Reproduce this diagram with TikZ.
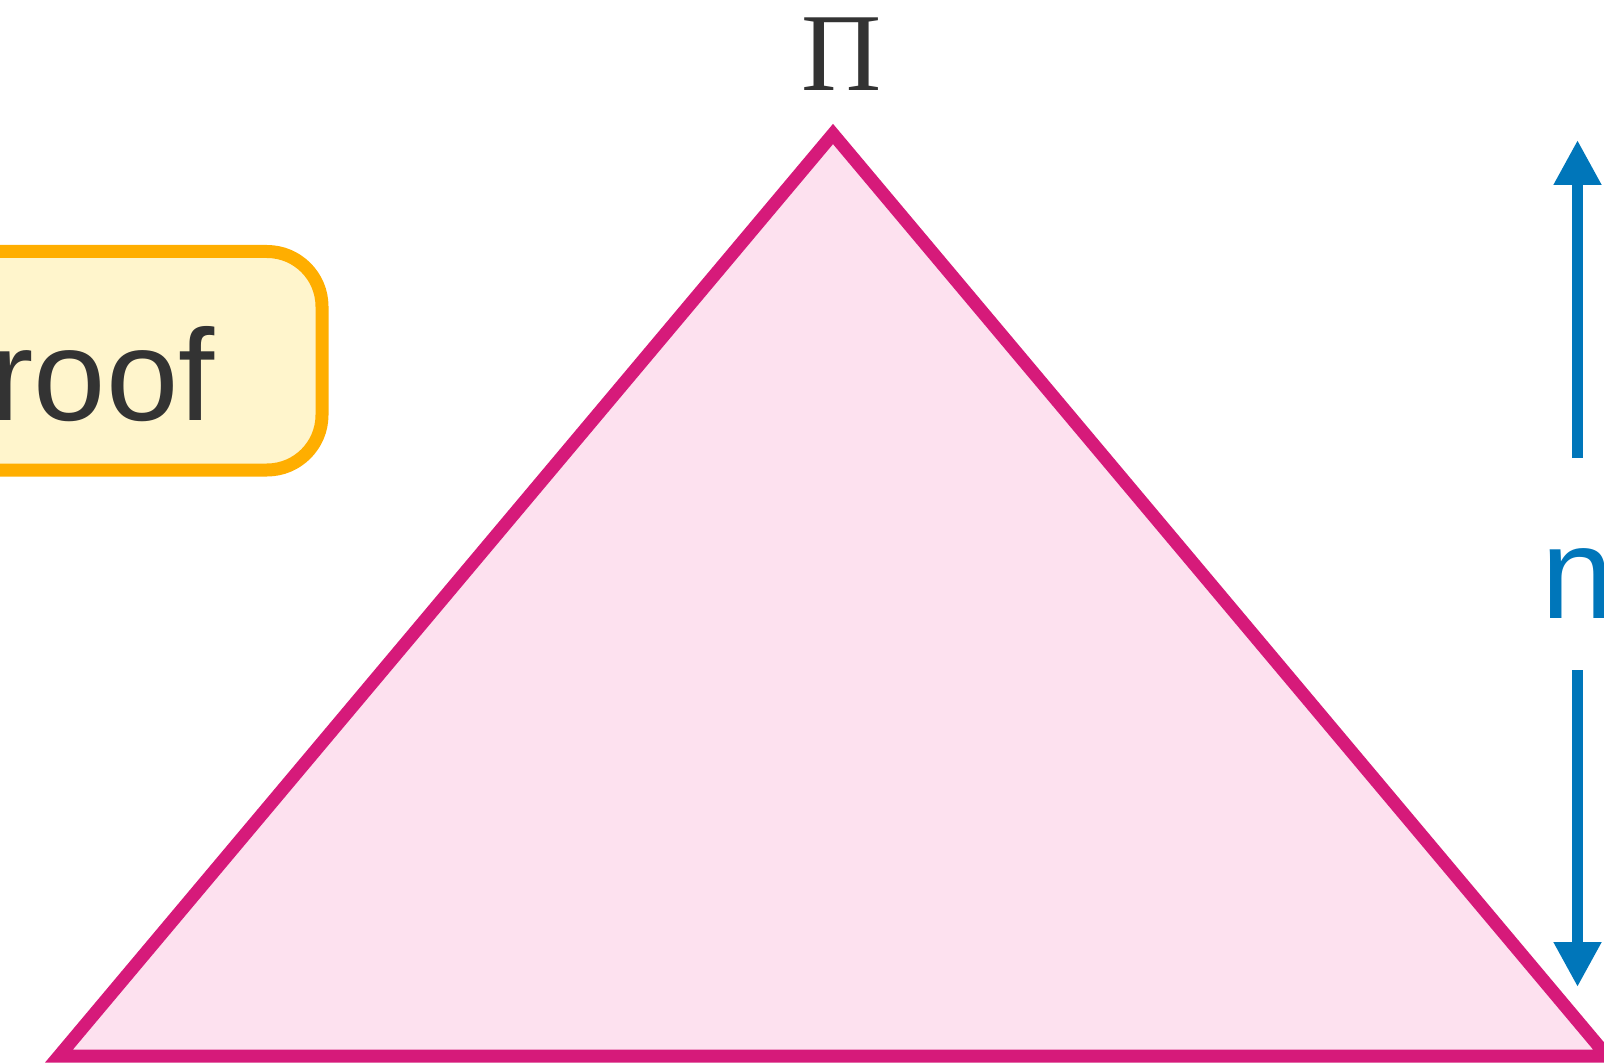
\documentclass[tikz,border=0pt]{standalone}
\usepackage{fontspec}
\setmainfont{Liberation Sans}
\newfontfamily\greekserif{Liberation Serif}
\usetikzlibrary{arrows.meta}
\definecolor{trimag}{RGB}{214,26,122}
\definecolor{trifill}{RGB}{253,225,239}
\definecolor{boxorange}{RGB}{255,174,0}
\definecolor{boxfill}{RGB}{255,245,204}
\definecolor{dimblue}{RGB}{0,118,186}
\definecolor{txtgray}{RGB}{51,51,51}
\tikzset{
  tri/.style={draw=trimag, fill=trifill, line width=6.5pt, line join=miter},
  roofbox/.style={draw=boxorange, fill=boxfill, line width=6.5pt, rounded corners=27.5pt, inner sep=0pt},
  bigtext/.style={inner sep=0pt, text=txtgray, font=\fontsize{65pt}{78pt}\selectfont},
  dimlabel/.style={inner sep=0pt, text=dimblue, font=\fontsize{65pt}{78pt}\selectfont},
  pilabel/.style={inner sep=0pt, text=txtgray, font=\greekserif\fontsize{55.5pt}{66pt}\selectfont},
  dimarrow/.style={draw=dimblue, line width=5.5pt, -{Triangle[length=22.5pt,width=22.5pt]}}
}
\begin{document}
\begin{tikzpicture}[x=0.5pt,y=-0.5pt]
\useasboundingbox (0,0) rectangle (1604,1063);
\clip (0,0) rectangle (1604,1063);
% triangle
\coordinate (apex) at (833,134);
\coordinate (bl) at (59,1056);
\coordinate (br) at (1607,1056);
\draw[tri] (apex) -- (bl) -- (br) -- cycle;
\node[pilabel, anchor=base] (pi) at (841.5,91) {Π};
% box
\node[roofbox, minimum width=261pt, minimum height=109.25pt] (box) at (61,360.75) {};
\node[bigtext, anchor=base east] (rooftext) at (215,421) {roof};
% dimension arrows
\coordinate (uptip) at (1577.5,140);
\coordinate (upstart) at (1577.5,458);
\node[dimlabel] (n) at (1577.5,584) {n};
\coordinate (downstart) at (1577.5,670);
\coordinate (downtip) at (1577.5,987);
\draw[dimarrow] (upstart) -- (uptip);
\draw[dimarrow] (downstart) -- (downtip);
\end{tikzpicture}
\end{document}
